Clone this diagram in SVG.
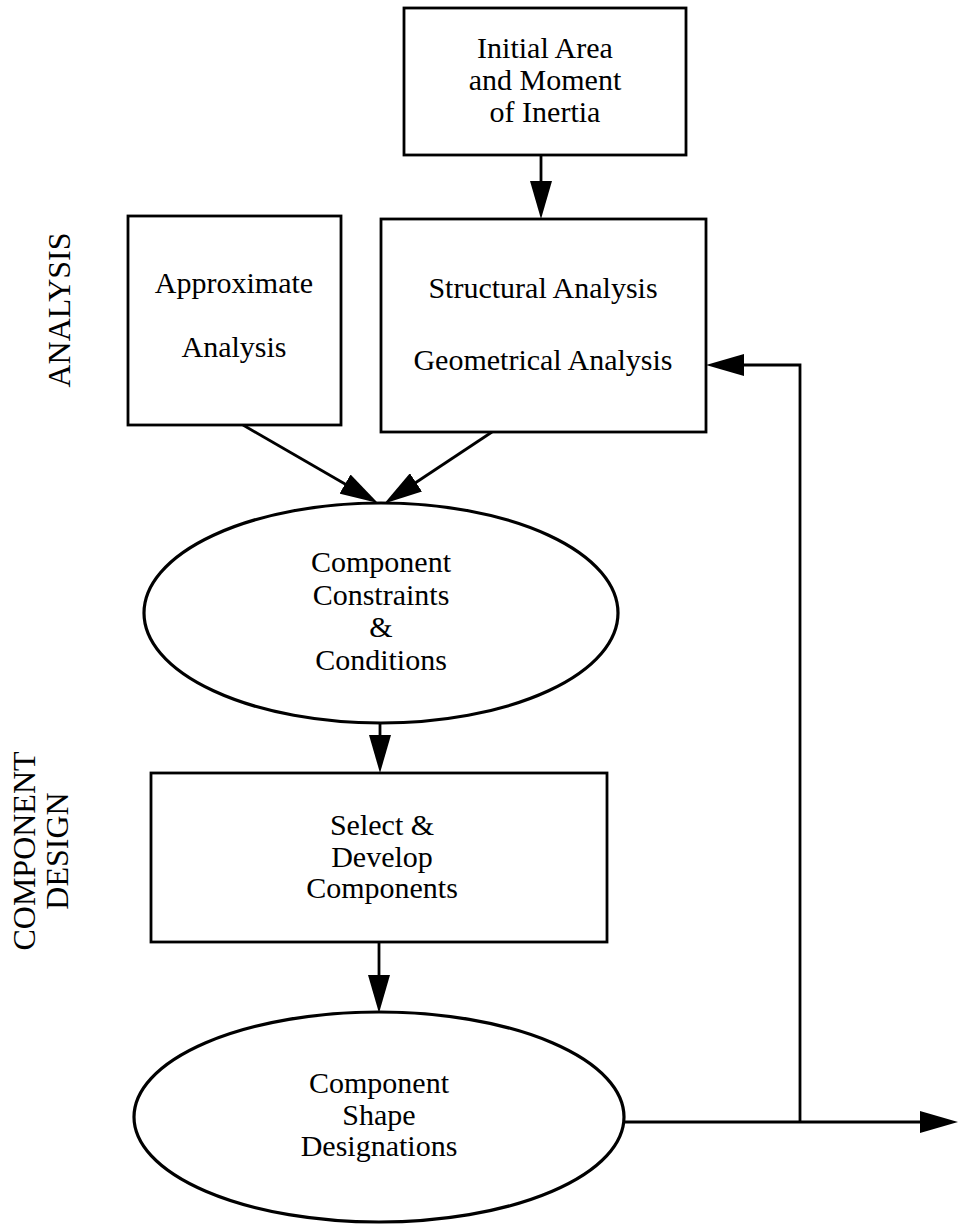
<svg xmlns="http://www.w3.org/2000/svg" width="958" height="1226" viewBox="0 0 958 1226">
  <style>
    .box { fill: #ffffff; stroke: #000000; stroke-width: 2.8; }
    .oval { fill: #ffffff; stroke: #000000; stroke-width: 3.2; }
    .lbl { font-family: "Liberation Serif", "Times New Roman", serif; font-size: 30px; fill: #000000; text-anchor: middle; }
    .side { font-family: "Liberation Serif", "Times New Roman", serif; font-size: 32px; fill: #000000; text-anchor: middle; }
    .wire { fill: none; stroke: #000000; stroke-width: 2.8; marker-end: url(#head); }
    .plain { fill: none; stroke: #000000; stroke-width: 2.8; }
  </style>
  <defs>
    <!-- solid triangular arrowhead, tip 8px past the line end -->
    <marker id="head" viewBox="0 0 38 22" refX="30" refY="11" markerWidth="38" markerHeight="22" markerUnits="userSpaceOnUse" orient="auto">
      <path d="M0,0 L38,11 L0,22 z" fill="#000000"/>
    </marker>
  </defs>
  <rect width="958" height="1226" fill="#ffffff"/>

  <!-- side section labels -->
  <g id="label-analysis">
    <text class="side" transform="translate(70,310) rotate(-90)">ANALYSIS</text>
  </g>
  <g id="label-component-design">
    <text class="side" transform="translate(35,851) rotate(-90)">COMPONENT</text>
    <text class="side" transform="translate(68,851) rotate(-90)">DESIGN</text>
  </g>

  <!-- connectors -->
  <g id="connectors">
    <line class="wire" x1="541" y1="155" x2="541" y2="211"/>
    <line class="wire" x1="243" y1="425" x2="371" y2="499"/>
    <line class="wire" x1="492" y1="432" x2="391" y2="499"/>
    <line class="wire" x1="380" y1="723" x2="380" y2="765"/>
    <line class="wire" x1="379" y1="942" x2="379" y2="1005"/>
    <path class="wire" d="M800,1122 V365 H714"/>
    <line class="plain" x1="624" y1="1122" x2="800" y2="1122"/>
    <line class="wire" x1="800" y1="1122" x2="950" y2="1122"/>
  </g>

  <g id="node-initial">
    <rect class="box" x="404" y="8" width="282" height="147"/>
    <text class="lbl" x="545" y="58">Initial Area</text>
    <text class="lbl" x="545" y="90">and Moment</text>
    <text class="lbl" x="545" y="122">of Inertia</text>
  </g>

  <g id="node-approximate">
    <rect class="box" x="128" y="216" width="213" height="209"/>
    <text class="lbl" x="234" y="293">Approximate</text>
    <text class="lbl" x="234" y="357">Analysis</text>
  </g>

  <g id="node-structural">
    <rect class="box" x="381" y="219" width="325" height="213"/>
    <text class="lbl" x="543" y="298">Structural Analysis</text>
    <text class="lbl" x="543" y="370">Geometrical Analysis</text>
  </g>

  <g id="node-constraints">
    <ellipse class="oval" cx="381" cy="613" rx="237" ry="110"/>
    <text class="lbl" x="381" y="572">Component</text>
    <text class="lbl" x="381" y="605">Constraints</text>
    <text class="lbl" x="381" y="637">&amp;</text>
    <text class="lbl" x="381" y="670">Conditions</text>
  </g>

  <g id="node-select">
    <rect class="box" x="151" y="773" width="456" height="169"/>
    <text class="lbl" x="382" y="835">Select &amp;</text>
    <text class="lbl" x="382" y="867">Develop</text>
    <text class="lbl" x="382" y="898">Components</text>
  </g>

  <g id="node-shape">
    <ellipse class="oval" cx="379" cy="1117" rx="245" ry="105"/>
    <text class="lbl" x="379" y="1093">Component</text>
    <text class="lbl" x="379" y="1125">Shape</text>
    <text class="lbl" x="379" y="1156">Designations</text>
  </g>
</svg>
